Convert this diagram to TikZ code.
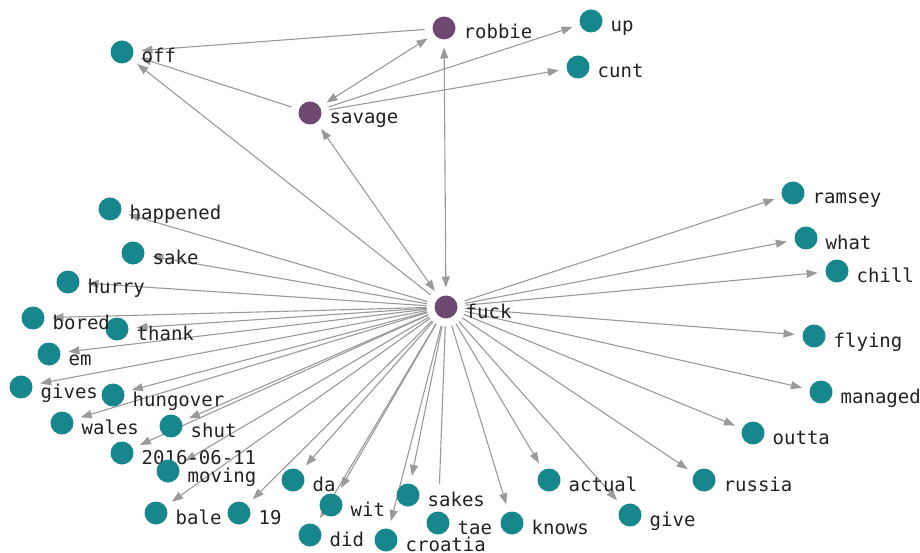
\documentclass[tikz,border=0pt]{standalone}
\usepackage{fontspec}
\setmonofont{DejaVu Sans Mono}
\usetikzlibrary{arrows.meta,backgrounds}

\definecolor{dotteal}{HTML}{16878D}
\definecolor{dotpurple}{HTML}{6D4871}
\definecolor{edgegray}{HTML}{9A9A9A}
\definecolor{wordink}{HTML}{222222}

\tikzset{
  lbl/.style={inner sep=0pt, text height=14pt, text depth=4pt, yshift=-6pt,
    text=wordink, font=\ttfamily\fontsize{19}{19}\selectfont},
  dot/.style={circle, minimum size=23pt, inner sep=0pt, outer sep=8pt,
    label={[lbl]east:#1}},
  word/.style={dot=#1, fill=dotteal},
  hub/.style={dot=#1, fill=dotpurple},
  edge/.style={draw=edgegray, line width=1.1pt,
    -{Triangle[length=11pt,width=8pt,fill=edgegray]}},
  both/.style={edge, {Triangle[length=11pt,width=8pt,fill=edgegray]}-{Triangle[length=11pt,width=8pt,fill=edgegray]}}
}

\begin{document}
\begin{tikzpicture}[x=1pt,y=-1pt]
\useasboundingbox (0,0) rectangle (920,553);

% the three purple words
\node[hub=robbie] (robbie) at (444,28) {};
\node[hub=savage] (savage) at (310,113) {};
\node[hub=fuck] (fuck) at (446,307) {};

% top
\node[word=up] (up) at (591,21) {};
\node[word=cunt] (cunt) at (578,67) {};
\node[word=off] (off) at (122,52) {};

% left side
\node[word=happened] (happened) at (110,209) {};
\node[word=sake] (sake) at (133,253) {};
\node[word=hurry] (hurry) at (68,282) {};
\node[word=thank] (thank) at (117,329) {};
\node[word=bored] (bored) at (33,318) {};
\node[word=em] (em) at (49,354) {};
\node[word=gives] (gives) at (21,387) {};
\node[word=hungover] (hungover) at (113,395) {};
\node[word=wales] (wales) at (62,423) {};
\node[word=shut] (shut) at (171,426) {};
\node[word=2016-06-11] (d2016) at (122,453) {};
\node[word=moving] (moving) at (168,471) {};
\node[word=bale] (bale) at (156,513) {};
\node[word=19] (n19) at (239,513) {};

% bottom
\node[word=da] (da) at (293,480) {};
\node[word=wit] (wit) at (331,505) {};
\node[word=did] (did) at (310,535) {};
\node[word=sakes] (sakes) at (408,495) {};
\node[word=croatia] (croatia) at (386,540) {};
\node[word=tae] (tae) at (438,523) {};
\node[word=knows] (knows) at (512,523) {};
\node[word=actual] (actual) at (549,480) {};
\node[word=give] (give) at (630,515) {};

% right side
\node[word=russia] (russia) at (704,480) {};
\node[word=outta] (outta) at (753,433) {};
\node[word=managed] (managed) at (821,392) {};
\node[word=flying] (flying) at (814,336) {};
\node[word=chill] (chill) at (837,271) {};
\node[word=what] (what) at (806,238) {};
\node[word=ramsey] (ramsey) at (793,193) {};

\begin{scope}[on background layer]
\draw[edge] (robbie) -- (off);
\draw[edge] (savage) -- (off);
\draw[edge] (fuck) -- (off);
\draw[both] (savage) -- (robbie);
\draw[both] (savage) -- (fuck);
\draw[both] (robbie) -- (fuck);
\draw[edge] (savage) -- (up);
\draw[edge] (savage) -- (cunt);
\foreach \w in {happened,sake,hurry,thank,bored,em,gives,hungover,wales,shut,
    d2016,moving,bale,n19,da,wit,did,sakes,croatia,knows,actual,give,
    russia,outta,managed,flying,chill,what,ramsey}
  \draw[edge] (fuck) -- (\w);
\draw[draw=edgegray, line width=1.1pt, shorten >=20pt] (fuck) -- (tae);
\end{scope}
\end{tikzpicture}
\end{document}
